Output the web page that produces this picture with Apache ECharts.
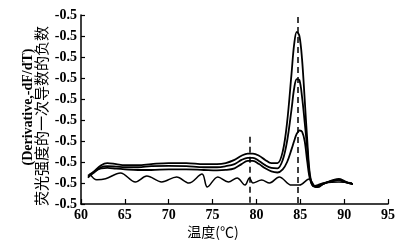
<!DOCTYPE html>
<html><head><meta charset="utf-8">
<script src="https://cdn.jsdelivr.net/npm/echarts@6/dist/echarts.min.js"></script>
<style>html,body{margin:0;padding:0;background:#fff}#c{width:411px;height:245px}</style>
</head><body><div id="c"></div>
<script>
// temperatures (°C) for the three melt curves
var temps = [60.8, 61.5, 62.3, 63, 64, 65, 66.5, 68, 70, 72, 74, 75.5, 76.5, 77.5, 78.3, 79.0, 79.6, 80.3, 81, 81.7, 82.4, 83.0, 83.5, 84.0, 84.3, 84.6, 84.9, 85.2, 85.5, 85.8, 86.1, 86.5, 87.0, 87.6, 88.2, 88.8, 89.4, 90.0, 90.5, 91.0];
var curveHigh = [1.25, 1.55, 1.85, 1.95, 1.9, 1.85, 1.85, 1.9, 1.95, 1.95, 1.9, 1.9, 1.95, 2.1, 2.3, 2.4, 2.4, 2.3, 2.1, 1.95, 1.95, 2.5, 3.9, 6.2, 7.6, 8.2, 8.0, 6.9, 5.0, 3.0, 1.4, 0.85, 0.8, 0.95, 1.05, 1.15, 1.2, 1.1, 1.0, 0.95];
var curveMid = [1.3, 1.5, 1.75, 1.8, 1.78, 1.75, 1.75, 1.8, 1.82, 1.8, 1.75, 1.75, 1.8, 1.9, 2.1, 2.2, 2.2, 2.05, 1.85, 1.72, 1.7, 2.1, 3.0, 4.5, 5.5, 5.95, 5.9, 5.1, 3.9, 2.6, 1.3, 0.85, 0.85, 0.95, 1.05, 1.1, 1.15, 1.05, 1.0, 0.95];
var curveLow = [1.35, 1.55, 1.7, 1.72, 1.68, 1.65, 1.62, 1.62, 1.65, 1.65, 1.62, 1.6, 1.62, 1.7, 1.9, 2.05, 2.05, 1.9, 1.7, 1.55, 1.5, 1.65, 2.0, 2.6, 3.0, 3.35, 3.5, 3.45, 3.0, 2.0, 1.2, 0.85, 0.9, 1.0, 1.05, 1.1, 1.15, 1.05, 1.0, 0.95];
// wavy control curve
var waveTemps = [61.0, 61.8, 62.8, 64.5, 66.2, 67.5, 69.2, 70.9, 72.3, 73.8, 74.4, 75.6, 76.8, 77.8, 78.7, 79.2, 79.6, 80.6, 81.5, 82.6, 84.0, 84.9, 86.0, 86.8, 87.9, 89.4, 90.9];
var waveVals = [1.45, 1.15, 1.2, 1.48, 1.05, 1.33, 1.05, 1.29, 1.0, 1.43, 0.81, 1.29, 1.05, 1.24, 0.9, 1.24, 1.0, 1.14, 1.0, 1.29, 0.9, 0.9, 1.19, 0.81, 1.0, 1.05, 1.0];
// dashed reference lines: [temperature, top value]
var refLines = [[79.2, 3.2], [84.75, 8.9]];
var yTickLabel = '-0.5';
var xName = '温度(℃)';
var yNameEn = '(Derivative,-dF/dT)';
var yNameZh = '荧光强度的一次导数的负数';

function pairs(xs, ys) { return xs.map(function (x, i) { return [x, ys[i]]; }); }
var serif = '"Liberation Serif","Times New Roman",serif';
var lineBase = { type: 'line', showSymbol: false, symbol: 'none', smooth: 0.35, silent: true };

var chart = echarts.init(document.getElementById('c'), null, { renderer: 'canvas' });
chart.setOption({
  animation: false,
  backgroundColor: '#fff',
  grid: { left: 81, right: 23, top: 15, bottom: 41 },
  xAxis: {
    type: 'value', min: 60, max: 95, interval: 5,
    axisLine: { show: true, lineStyle: { color: '#000', width: 1.5 } },
    axisTick: { show: true, inside: true, length: 5, lineStyle: { color: '#000', width: 1.2 } },
    axisLabel: { color: '#000', fontFamily: serif, fontSize: 14, fontWeight: 'bold', margin: 4 },
    splitLine: { show: false }
  },
  yAxis: {
    type: 'value', min: 0, max: 9, interval: 1,
    axisLine: { show: true, lineStyle: { color: '#000', width: 1.5 } },
    axisTick: { show: true, inside: true, length: 4, lineStyle: { color: '#000', width: 1.2 } },
    axisLabel: { color: '#000', fontFamily: serif, fontSize: 14, fontWeight: 'bold', margin: 4, formatter: function () { return yTickLabel; } },
    splitLine: { show: false }
  },
  graphic: [
    { type: 'text', x: 213, y: 232, style: { text: xName, fontFamily: '"Noto Sans CJK SC",' + serif, fontSize: 14, fill: '#000', align: 'center', verticalAlign: 'middle' } },
    { type: 'text', x: 28, y: 107, rotation: Math.PI / 2, style: { text: yNameEn, fontFamily: serif, fontSize: 14, fontWeight: 'bold', fill: '#000', align: 'center', verticalAlign: 'middle' } },
    { type: 'text', x: 41, y: 116, rotation: Math.PI / 2, style: { text: yNameZh, fontFamily: '"Noto Sans CJK SC"', fontSize: 15, fill: '#000', align: 'center', verticalAlign: 'middle' } }
  ],
  series: [
    Object.assign({}, lineBase, { data: pairs(temps, curveHigh), lineStyle: { color: '#000', width: 1.8 },
      markLine: { silent: true, symbol: 'none', label: { show: false },
        lineStyle: { color: '#000', type: [6, 4], width: 1.5 },
        data: refLines.map(function (r) { return [{ coord: [r[0], r[1]] }, { coord: [r[0], 0] }]; }) } }),
    Object.assign({}, lineBase, { data: pairs(temps, curveMid), lineStyle: { color: '#000', width: 1.8 } }),
    Object.assign({}, lineBase, { data: pairs(temps, curveLow), lineStyle: { color: '#000', width: 1.8 } }),
    Object.assign({}, lineBase, { data: pairs(waveTemps, waveVals), lineStyle: { color: '#000', width: 1.5 } })
  ]
});
</script></body></html>
